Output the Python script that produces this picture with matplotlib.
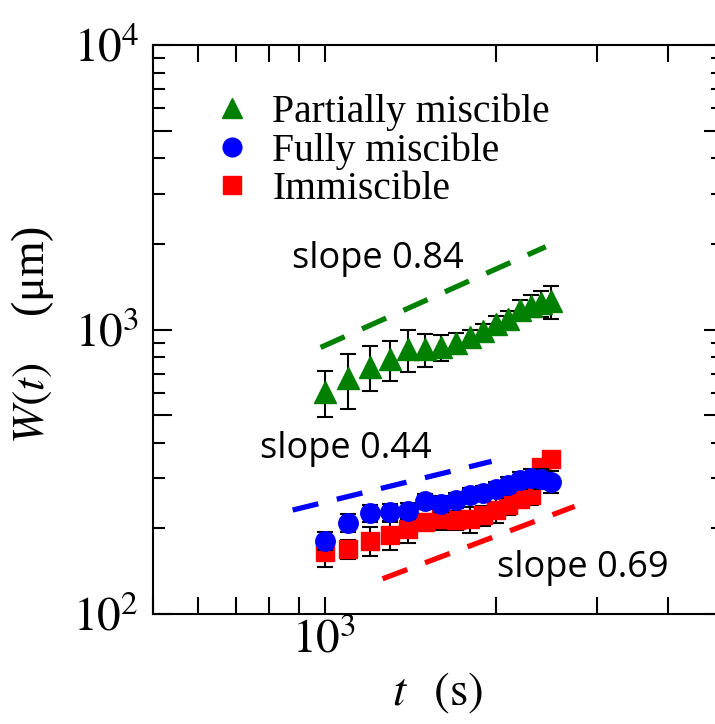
import matplotlib
matplotlib.use("Agg")
import matplotlib.pyplot as plt
from matplotlib.ticker import FixedLocator, FuncFormatter, NullFormatter
from matplotlib.lines import Line2D

plt.rcParams['font.family'] = ['Liberation Serif', 'DejaVu Serif']
plt.rcParams['mathtext.fontset'] = 'stix'

# time (s)
t = [1000, 1100, 1200, 1300, 1400, 1500, 1600, 1700,
     1800, 1900, 2000, 2100, 2200, 2300, 2400, 2500]

# W(t) in micrometres, with error bars
partial_w = [603, 674, 739, 788, 853, 852, 865, 896,
             945, 992, 1047, 1092, 1175, 1214, 1237, 1258]
partial_err = [110, 147, 133, 127, 145, 114, 88, 75,
               55, 55, 65, 74, 99, 110, 130, 168]

full_w = [181, 209, 226, 228, 230, 249, 244, 251,
          263, 266, 274, 285, 295, 301, 299, 292]
full_err = [13, 15, 15, 15, 15, 15, 15, 15,
            15, 16, 18, 18, 20, 22, 24, 26]

immisc_w = [165, 169, 181, 189, 199, 211, 215, 214,
            215, 222, 232, 241, 253, 262, 328, 350]
immisc_err = [19, 13, 21, 21, 22, 13, 17, 17,
              22, 18, 23, 19, 18, 20, 12, 12]

# guide lines (end points) and their labels
slope_labels = ['slope 0.84', 'slope 0.44', 'slope 0.69']
guide_partial_t = [984, 2443]
guide_partial_w = [865, 1954]
guide_full_t = [879, 1963]
guide_full_w = [232, 344]
guide_immisc_t = [1264, 2746]
guide_immisc_w = [133, 239]

legend_labels = ['Partially miscible', 'Fully miscible', 'Immiscible']

fig = plt.figure(figsize=(7.15, 7.24), dpi=100)
ax = fig.add_axes([0.214, 0.1519, 0.7972, 0.7859])
ax.set_xscale('log')
ax.set_yscale('log')
ax.set_xlim(500, 5000)
ax.set_ylim(100, 10000)

dash = (0, (5, 3.6))
ax.plot(guide_partial_t, guide_partial_w, color='green', lw=3.8, ls=dash,
        dash_capstyle='butt', zorder=1)
ax.plot(guide_full_t, guide_full_w, color='blue', lw=3.8, ls=dash,
        dash_capstyle='butt', zorder=1)
ax.plot(guide_immisc_t, guide_immisc_w, color='red', lw=3.8, ls=dash,
        dash_capstyle='butt', zorder=1)

series = [
    (partial_w, partial_err, 'green', '^', 15.5, 2),
    (immisc_w, immisc_err, 'red', 's', 13, 4),
    (full_w, full_err, 'blue', 'o', 14, 6),
]
for w, err, col, mk, ms, z in series:
    ax.errorbar(t, w, yerr=err, fmt='none', ecolor='black', elinewidth=1.5,
                capsize=5.5, capthick=1.5, zorder=z)
    ax.plot(t, w, ls='none', marker=mk, ms=ms, color=col, mec=col, zorder=z + 1)

# slope annotations
text_kw = dict(family='Open Sans', fontsize=26, transform=ax.transAxes,
               va='baseline', ha='left')
ax.text(0.244, 0.608, slope_labels[0], **text_kw)
ax.text(0.188, 0.274, slope_labels[1], **text_kw)
ax.text(0.6035, 0.065, slope_labels[2], **text_kw)

# legend with markers only
handles = [
    Line2D([], [], ls='none', marker='^', ms=15, color='green'),
    Line2D([], [], ls='none', marker='o', ms=13.5, color='blue'),
    Line2D([], [], ls='none', marker='s', ms=13, color='red'),
]
ax.legend(handles, legend_labels, loc='upper left', bbox_to_anchor=(0.105, 0.915),
          frameon=False, fontsize=28.5, handlelength=0.95, handletextpad=0.55,
          labelspacing=0.03, borderpad=0, borderaxespad=0, numpoints=1)

# axes style
for sp in ax.spines.values():
    sp.set_linewidth(1.5)

ax.yaxis.set_major_locator(FixedLocator([100, 500, 1000, 5000, 10000]))
ax.yaxis.set_minor_locator(FixedLocator(
    [m * 10 ** e for e in (2, 3) for m in (2, 3, 4, 6, 7, 8, 9)]))
ax.yaxis.set_major_formatter(FuncFormatter(
    lambda v, p: {100: r'$10^{2}$', 1000: r'$10^{3}$', 10000: r'$10^{4}$'}.get(int(round(v)), '')))
ax.yaxis.set_minor_formatter(NullFormatter())

ax.xaxis.set_major_locator(FixedLocator([1000]))
ax.xaxis.set_minor_locator(FixedLocator([500, 600, 700, 800, 900, 2000, 3000, 4000]))
ax.xaxis.set_major_formatter(FuncFormatter(lambda v, p: r'$10^{3}$'))
ax.xaxis.set_minor_formatter(NullFormatter())

ax.tick_params(axis='both', which='both', direction='in', width=1.5,
               top=True, right=True, labelsize=34)
ax.tick_params(axis='y', which='major', length=14, pad=10)
ax.tick_params(axis='y', which='minor', length=8.5)
ax.tick_params(axis='x', which='both', length=12, pad=3)

ax.set_ylabel(r'$W(t)$    (μm)', fontsize=33)
ax.yaxis.set_label_coords(-0.17, 0.49)
ax.set_xlabel(r'$t\;\;\;(\mathrm{s})$', fontsize=34, labelpad=6)

fig.savefig('out.png', dpi=100)
